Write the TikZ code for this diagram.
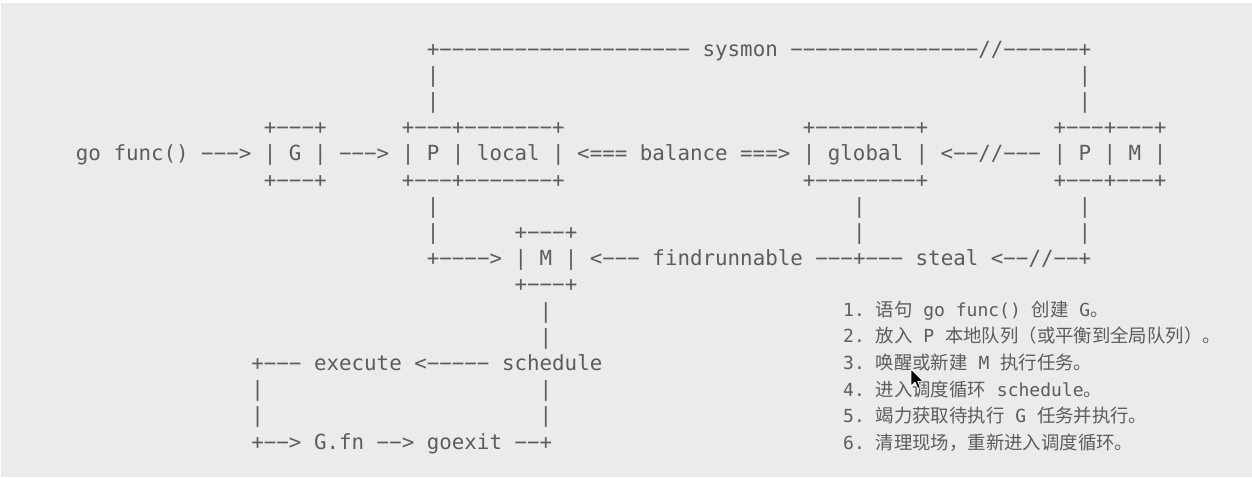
\documentclass[tikz,border=0pt]{standalone}
\usepackage{fontspec}
\setmonofont{DejaVu Sans Mono}
\newfontfamily\cjk[Scale=1.022]{Noto Sans CJK SC}
\definecolor{ink}{HTML}{5C5C5C}
\definecolor{paper}{HTML}{EBEBEB}

% character grid of the block diagram
\def\cw{12.535}
\def\xo{75.7}
\def\lh{26.2}
\def\yo{56}
% list grid
\def\lx{843}
\def\ly{316}
\def\llh{26.7}

\tikzset{
  asc/.style={font=\ttfamily\fontsize{20.82}{24}\selectfont, text=ink, inner sep=0pt, anchor=base west},
  lst/.style={font=\ttfamily\fontsize{18}{22}\selectfont, text=ink, inner sep=0pt, anchor=base west},
}
% \asc{name}{column}{row}{text}; rules are drawn with the minus sign U+2212
\newcommand\asc[4]{\node[asc] (#1) at ({\xo+#2*\cw},{-(\yo+#3*\lh)}) {#4};}
% \lstitem{name}{index}{text}
\newcommand\lstitem[3]{\node[lst] (#1) at (\lx,{-(\ly+(#2-1)*\llh)}) {#3};}

\begin{document}
\begin{tikzpicture}[x=1pt,y=1pt]
\useasboundingbox (0,0) rectangle (1252,-477);
\fill[white] (0,0) rectangle (1252,-477);
\fill[paper] (1,-3) rectangle (1252,-477);

% sysmon loop
\asc{sysmon}{28}{0}{+−−−−−−−−−−−−−−−−−−−− sysmon −−−−−−−−−−−−−−−//−−−−−−+}
\asc{sysL1}{28}{1}{|}
\asc{sysR1}{80}{1}{|}
\asc{sysL2}{28}{2}{|}
\asc{sysR2}{80}{2}{|}

% main row of boxes
\asc{gTop}{15}{3}{+−−−+}
\asc{plTop}{26}{3}{+−−−+−−−−−−−+}
\asc{glTop}{58}{3}{+−−−−−−−−+}
\asc{pmTop}{78}{3}{+−−−+−−−+}
\asc{mainrow}{0}{4}{go func() −−−> | G | −−−> | P | local | <=== balance ===> | global | <−−//−−− | P | M |}
\asc{gBot}{15}{5}{+−−−+}
\asc{plBot}{26}{5}{+−−−+−−−−−−−+}
\asc{glBot}{58}{5}{+−−−−−−−−+}
\asc{pmBot}{78}{5}{+−−−+−−−+}

% findrunnable / steal
\asc{vP1}{28}{6}{|}
\asc{vG1}{62}{6}{|}
\asc{vR1}{80}{6}{|}
\asc{vP2}{28}{7}{|}
\asc{mTop}{35}{7}{+−−−+}
\asc{vG2}{62}{7}{|}
\asc{vR2}{80}{7}{|}
\asc{findrow}{28}{8}{+−−−−> | M | <−−− findrunnable −−−+−−− steal <−−//−−+}
\asc{mBot}{35}{9}{+−−−+}
\asc{vM1}{37}{10}{|}
\asc{vM2}{37}{11}{|}

% schedule loop
\asc{schedrow}{14}{12}{+−−− execute <−−−−− schedule}
\asc{lpL1}{14}{13}{|}
\asc{lpR1}{37}{13}{|}
\asc{lpL2}{14}{14}{|}
\asc{lpR2}{37}{14}{|}
\asc{exitrow}{14}{15}{+−−> G.fn −−> goexit −−+}

% numbered notes
\lstitem{n1}{1}{1. {\cjk 语句} go func() {\cjk 创建} G{\cjk 。}}
\lstitem{n2}{2}{2. {\cjk 放入} P {\cjk 本地队列（或平衡到全局队列）。}}
\lstitem{n3}{3}{3. {\cjk 唤醒或新建} M {\cjk 执行任务。}}
\lstitem{n4}{4}{4. {\cjk 进入调度循环} schedule{\cjk 。}}
\lstitem{n5}{5}{5. {\cjk 竭力获取待执行} G {\cjk 任务并执行。}}
\lstitem{n6}{6}{6. {\cjk 清理现场，重新进入调度循环。}}

% mouse pointer
\filldraw[fill=black, draw=white, line width=0.8pt, line join=round]
  (911,-369) -- ++(0,-17) -- ++(4,3.8) -- ++(2.8,-6.3) -- ++(2.6,1.1)
  -- ++(-2.7,6.2) -- ++(5.3,0) -- cycle;
\end{tikzpicture}
\end{document}
